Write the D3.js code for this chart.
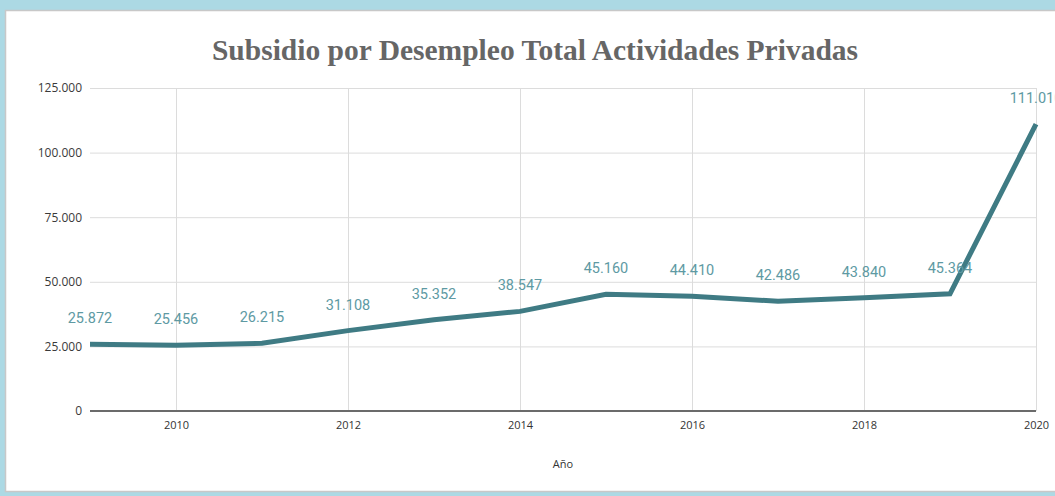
<!DOCTYPE html>
<html><head><meta charset="utf-8">
<script src="https://cdn.jsdelivr.net/npm/d3@7"></script>
<style>
html,body{margin:0;padding:0;background:#acd9e4;overflow:hidden}
svg{display:block}
</style></head>
<body>
<svg id="c" width="1055" height="496"></svg>
<script>
const years = [2009,2010,2011,2012,2013,2014,2015,2016,2017,2018,2019,2020];
const values = [25872,25456,26215,31108,35352,38547,45160,44410,42486,43840,45364,111010];
const xTicks = [2010,2012,2014,2016,2018,2020];
const yTicks = [0,25000,50000,75000,100000,125000];
const title = "Subsidio por Desempleo Total Actividades Privadas";
const xTitle = "Año";

const fmt = v => d3.format(",")(v).replace(/,/g, ".");
const svg = d3.select("#c");

// panel
svg.append("rect").attr("x",5.5).attr("y",10.5).attr("width",1100).attr("height",481)
  .attr("fill","#fff").attr("stroke","#c8c8c8").attr("stroke-width",1.5);

const x = d3.scaleLinear().domain([2009,2020]).range([90,1036]);
const y = d3.scaleLinear().domain([0,125000]).range([411,88]);

// horizontal grid
const gy = svg.append("g").attr("transform","translate(90,0)")
  .call(d3.axisLeft(y).tickValues(yTicks).tickFormat(fmt).tickSize(-946).tickPadding(8));
gy.select(".domain").remove();
gy.selectAll(".tick line").attr("stroke","#dcdcdc").attr("stroke-width",1);
gy.selectAll(".tick text").attr("fill","#3a3a3a").style("font-family","Open Sans, sans-serif").style("font-size","12px");

// vertical grid + x labels
const gx = svg.append("g").attr("transform","translate(0,411)")
  .call(d3.axisBottom(x).tickValues(xTicks).tickFormat(d3.format("d")).tickSize(-323).tickPadding(10));
gx.select(".domain").remove();
gx.selectAll(".tick line").attr("stroke","#dcdcdc").attr("stroke-width",1);
gx.selectAll(".tick text").attr("fill","#333").style("font-family","Open Sans, sans-serif").style("font-size","11px");

// zero axis line
svg.append("line").attr("x1",90).attr("x2",1036).attr("y1",y(0)).attr("y2",y(0))
  .attr("stroke","#6b6b6b").attr("stroke-width",2);

// line
const pts = years.map((yr,i)=>({yr, v:values[i]}));
svg.append("path").datum(pts)
  .attr("d", d3.line().x(d=>x(d.yr)).y(d=>y(d.v)))
  .attr("fill","none").attr("stroke","#3f7b84").attr("stroke-width",5).attr("stroke-linejoin","miter");

// data labels
svg.append("g").selectAll("text").data(pts).join("text")
  .attr("x", d=>x(d.yr)).attr("y", d=>y(d.v)-21)
  .attr("text-anchor","middle")
  .attr("fill","#5e9aa3")
  .style("font-family","Roboto, sans-serif").style("font-size","14.5px")
  .text(d=>fmt(d.v));

// title
svg.append("text").attr("x",535).attr("y",60).attr("text-anchor","middle")
  .attr("fill","#666").style("font-family","Liberation Serif, serif").style("font-weight","bold")
  .style("font-size","29.5px").text(title);

// x title
svg.append("text").attr("x",563).attr("y",468).attr("text-anchor","middle")
  .attr("fill","#333").style("font-family","Open Sans, sans-serif").style("font-size","11px").text(xTitle);
</script>
</body></html>
